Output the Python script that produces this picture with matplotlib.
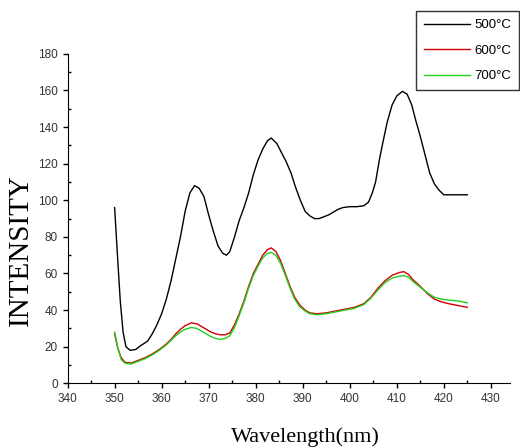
import matplotlib
matplotlib.use("Agg")
import matplotlib.pyplot as plt
from matplotlib.ticker import MultipleLocator

# 500 C curve (wavelength nm, intensity)
x500 = [350, 350.6, 351.2, 351.8, 352.4, 353.3, 354.5, 355.5, 357, 358, 359, 360, 361, 362, 363,
        364, 365, 366, 367, 368, 369, 370, 371, 372, 373, 373.8, 374.5, 375.5, 376.5, 377.5,
        378.5, 379.5, 380.5, 381.5, 382.5, 383.3, 384.5, 385.5, 386.5, 387.5, 388.5, 389.5, 390.5,
        391.5, 392.5, 393.5, 394.5, 395.5, 396.5, 397.5, 398.5, 400, 401.5, 403, 404, 404.8, 405.5,
        406.3, 407, 408, 409, 410, 411.2, 412.2, 413.2, 414, 415, 416, 417, 418, 419, 420, 421, 425]
y500 = [96, 70, 45, 28, 20, 18, 18.5, 20.5, 23, 27, 32, 38, 46, 56, 68,
        80, 94, 104, 108, 106.5, 102, 92, 83, 75, 71, 70, 72, 80, 89, 96,
        104, 114, 122, 128, 132.5, 134, 131, 126, 121, 115, 107, 100, 94,
        91.5, 90, 90, 91, 92, 93.5, 95, 96, 96.5, 96.5, 97, 99, 104, 110,
        122, 131, 143, 152, 157, 159.5, 158, 152, 144, 135, 125, 115, 109, 105.5, 103, 103, 103]

# 600 C and 700 C curves share wavelengths
x_lo = [350, 350.7, 351.4, 352.2, 353.5, 355, 356.5, 358, 359.5, 361, 362, 363, 364, 365, 366.3,
        367.5, 368.5, 369.5, 370.5, 371.5, 372.5, 373.5, 374.5, 375.5, 376.5, 377.5, 378.5, 379.5,
        380.5, 381.5, 382.5, 383.3, 384.3, 385.3, 386.3, 387.3, 388.3, 389.3, 390.5, 391.5, 393,
        395, 397, 399, 401, 403, 404.5, 406, 407.5, 409, 410.5, 411.5, 412.5, 413.5, 415, 416.5,
        418, 419.5, 421, 423, 425]
y600 = [27, 19, 14, 11.5, 11, 12.5, 14, 16, 18.5, 21.5, 24, 27, 29.5, 31.5, 33,
        32.5, 31, 29.5, 28, 27, 26.5, 26.5, 27.5, 32, 38, 45, 53, 60,
        65, 70, 73, 74, 72, 67, 60, 53, 47, 43, 40, 38.5, 38,
        38.5, 39.5, 40.5, 41.5, 43.5, 47, 52, 56, 59, 60.5, 61, 59.5, 56.5, 53, 49,
        46, 44.5, 43.5, 42.5, 41.5]
y700 = [28, 19, 13, 11, 10.5, 12, 13.5, 15.5, 18, 21, 23.5, 26, 28, 29.5, 30.5,
        30, 28.5, 27, 25.5, 24.5, 24, 24.5, 26, 30.5, 37, 44, 52, 59,
        64, 68.5, 71, 71.5, 70, 65.5, 59, 52, 46, 42, 39.5, 38, 37.5,
        38, 39, 40, 41, 43, 46.5, 51, 55, 57.5, 58.5, 58.8, 58, 55.5, 52.5, 49.5,
        47, 46, 45.5, 45, 44]

labels = ['500°C', '600°C', '700°C']
colors = ['#000000', '#d00000', '#20d020']

fig = plt.figure(figsize=(5.2, 4.47), dpi=100)
ax = fig.add_axes([0.130, 0.1425, 0.850, 0.737])

ax.plot(x500, y500, color=colors[0], lw=1.0, label=labels[0])
ax.plot(x_lo, y600, color=colors[1], lw=1.0, label=labels[1])
ax.plot(x_lo, y700, color=colors[2], lw=1.0, label=labels[2])

ax.set_xlim(340, 434)
ax.set_ylim(0, 180)
ax.xaxis.set_major_locator(MultipleLocator(10))
ax.xaxis.set_minor_locator(MultipleLocator(5))
ax.yaxis.set_major_locator(MultipleLocator(20))
ax.yaxis.set_minor_locator(MultipleLocator(10))
ax.spines['top'].set_visible(False)
ax.spines['right'].set_visible(False)
ax.tick_params(which='major', direction='out', length=3.5, width=1,
               labelsize=8.5, labelcolor='#333333')
ax.tick_params(which='minor', direction='in', length=2.5, width=1)
for lab in ax.get_xticklabels() + ax.get_yticklabels():
    lab.set_family('Liberation Sans')

fig.text(0.04, 0.44, 'INTENSITY', rotation=90, ha='center', va='center',
         family='Liberation Serif', fontsize=21)
fig.text(0.588, 0.022, 'Wavelength(nm)', ha='center', va='center',
         family='Liberation Serif', fontsize=16)

leg = fig.legend(loc='upper right', bbox_to_anchor=(0.998, 0.975),
                 prop={'family': 'Liberation Sans', 'size': 9.5},
                 frameon=True, fancybox=False, edgecolor='black',
                 handlelength=3.5, labelspacing=1.0, borderpad=0.6,
                 handletextpad=0.3, borderaxespad=0)
leg.get_frame().set_linewidth(1.0)

plt.savefig('out.png', dpi=100)
